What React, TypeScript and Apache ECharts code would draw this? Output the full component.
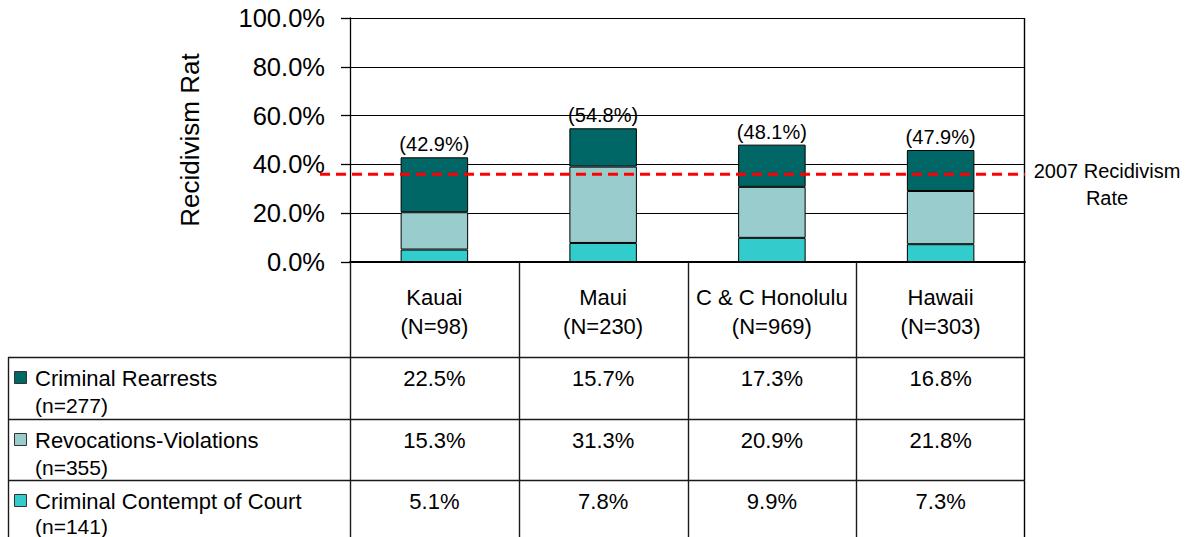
import React, { useEffect, useRef } from "react";
import * as echarts from "echarts";

const categories = ["Kauai", "Maui", "C & C Honolulu", "Hawaii"];
const sampleSizes = ["(N=98)", "(N=230)", "(N=969)", "(N=303)"];
const rearrests = [22.5, 15.7, 17.3, 16.8];
const revocations = [15.3, 31.3, 20.9, 21.8];
const contempt = [5.1, 7.8, 9.9, 7.3];
const totalLabels = ["(42.9%)", "(54.8%)", "(48.1%)", "(47.9%)"];
const seriesNames = ["Criminal Rearrests", "Revocations-Violations", "Criminal Contempt of Court"];
const seriesCounts = ["(n=277)", "(n=355)", "(n=141)"];
const seriesColors = ["#006666", "#99CCCC", "#33CCCC"];
const refRate = 36;
const refLabel = "2007 Recidivism\nRate";
const yAxisName = "Recidivism Rat";

const FONT = "Arial, 'Liberation Sans', sans-serif";
const W = 1191;
const H = 537;
const GRID_LEFT = 350;
const GRID_RIGHT_X = 1025;
const GRID_TOP = 18;
const GRID_BOTTOM_Y = 262;

export default function App() {
  const ref = useRef<HTMLDivElement>(null);

  useEffect(() => {
    document.body.style.margin = "0";
    if (!ref.current) return;
    const chart = echarts.init(ref.current, null, { renderer: "svg" });

    const tableRows = [rearrests, revocations, contempt];

    chart.setOption({
      animation: false,
      backgroundColor: "#ffffff",
      grid: {
        left: GRID_LEFT,
        right: W - GRID_RIGHT_X,
        top: GRID_TOP,
        bottom: H - GRID_BOTTOM_Y,
        containLabel: false,
      },
      xAxis: {
        type: "category",
        data: categories,
        axisLine: { show: true, lineStyle: { color: "#000", width: 2 } },
        axisTick: { show: false },
        axisLabel: { show: false },
        splitLine: { show: false },
      },
      yAxis: {
        type: "value",
        min: 0,
        max: 100,
        interval: 20,
        name: yAxisName,
        nameLocation: "middle",
        nameRotate: 90,
        nameGap: 147,
        nameTextStyle: { fontFamily: FONT, fontSize: 26, color: "#000" },
        axisLine: { show: true, lineStyle: { color: "#000", width: 1.3 } },
        axisTick: { show: true, length: 9, lineStyle: { color: "#000", width: 1.3 } },
        axisLabel: {
          margin: 25,
          fontFamily: FONT,
          fontSize: 25.5,
          color: "#000",
          formatter: (v: number) => v.toFixed(1) + "%",
        },
        splitLine: { show: true, lineStyle: { color: "#000", width: 1 } },
      },
      series: [
        {
          name: seriesNames[2],
          type: "bar",
          stack: "total",
          data: contempt,
          barCategoryGap: "60%",
          itemStyle: { color: seriesColors[2], borderColor: "#000", borderWidth: 1 },
        },
        {
          name: seriesNames[1],
          type: "bar",
          stack: "total",
          data: revocations,
          itemStyle: { color: seriesColors[1], borderColor: "#000", borderWidth: 1 },
        },
        {
          name: seriesNames[0],
          type: "bar",
          stack: "total",
          data: rearrests,
          itemStyle: { color: seriesColors[0], borderColor: "#000", borderWidth: 1 },
          label: {
            show: true,
            position: "top",
            distance: 3,
            fontFamily: FONT,
            fontSize: 20,
            color: "#000",
            formatter: (p: any) => totalLabels[p.dataIndex],
          },
        },
      ],
    });

    const centers = categories.map((_, i) => chart.convertToPixel({ xAxisIndex: 0 }, i) as number);
    const band = (GRID_RIGHT_X - GRID_LEFT) / categories.length;
    const refY = chart.convertToPixel({ yAxisIndex: 0 }, refRate) as number;
    const zeroY = chart.convertToPixel({ yAxisIndex: 0 }, 0) as number;

    const headerBottom = 357;
    const rowBounds = [357, 419, 480, H];
    const tableLeft = 8;
    const lineColor = "#1a1a1a";

    const g: any[] = [];
    const line = (x1: number, y1: number, x2: number, y2: number, color = lineColor, w = 1.4) =>
      g.push({
        type: "line",
        silent: true,
        shape: { x1, y1, x2, y2 },
        style: { stroke: color, lineWidth: w },
        z: 10,
      });
    const text = (t: string, x: number, y: number, align: string, size: number) =>
      g.push({
        type: "text",
        silent: true,
        x,
        y,
        style: {
          text: t,
          fill: "#000",
          fontFamily: FONT,
          fontSize: size,
          align,
          verticalAlign: "middle",
          textAlign: align,
          textVerticalAlign: "middle",
        },
        z: 10,
      });

    line(GRID_RIGHT_X - 0.5, GRID_TOP, GRID_RIGHT_X - 0.5, H, "#000", 1.4);
    for (let i = 0; i < categories.length; i++) {
      const x = Math.round(centers[i] - band / 2) + 0.5;
      line(x, zeroY, x, H);
    }
    for (let r = 0; r < rowBounds.length - 1; r++) {
      line(tableLeft, rowBounds[r] + 0.5, GRID_RIGHT_X, rowBounds[r] + 0.5);
    }
    line(tableLeft + 0.5, headerBottom, tableLeft + 0.5, H);

    categories.forEach((c, i) => {
      text(c, centers[i], 297, "center", 22);
      text(sampleSizes[i], centers[i], 326, "center", 22);
    });

    tableRows.forEach((vals, r) => {
      const top = rowBounds[r];
      const y1 = top + 21;
      const y2 = r === tableRows.length - 1 ? top + 46 : top + 48.5;
      g.push({
        type: "rect",
        silent: true,
        shape: { x: 14.5, y: y1 - 6.5, width: 12, height: 12 },
        style: { fill: seriesColors[r], stroke: "#333", lineWidth: 1 },
        z: 10,
      });
      text(seriesNames[r], 35, y1, "left", 22);
      text(seriesCounts[r], 35, y2, "left", 21);
      vals.forEach((v, i) => {
        text(v.toFixed(1) + "%", centers[i], y1, "center", 22);
      });
    });

    g.push({
      type: "line",
      silent: true,
      shape: { x1: 320, y1: refY, x2: GRID_RIGHT_X, y2: refY },
      style: { stroke: "#FF0000", lineWidth: 3, lineDash: [10, 6] },
      z: 20,
    });
    g.push({
      type: "text",
      silent: true,
      x: 1107,
      y: refY + 10,
      style: {
        text: refLabel,
        fill: "#000",
        fontFamily: FONT,
        fontSize: 20,
        lineHeight: 27,
        align: "center",
        verticalAlign: "middle",
        textAlign: "center",
        textVerticalAlign: "middle",
      },
      z: 20,
    });

    chart.setOption({ graphic: g });

    return () => {
      chart.dispose();
    };
  }, []);

  return <div ref={ref} style={{ width: W, height: H }} />;
}
